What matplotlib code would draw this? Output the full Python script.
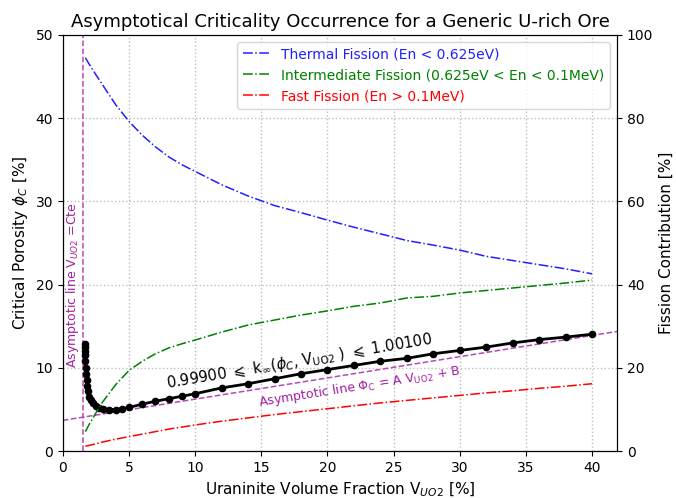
import matplotlib
matplotlib.use("Agg")
import matplotlib.pyplot as plt
import numpy as np

# critical porosity curve (k_inf ~ 1)
v_uo2 = [1.65, 1.66, 1.67, 1.68, 1.70, 1.72, 1.75, 1.80, 1.85, 1.90, 2.0, 2.1,
         2.25, 2.5, 2.75, 3.0, 3.5, 4.0, 4.5, 5.0, 6, 7, 8, 9, 10, 12, 14, 16,
         18, 20, 22, 24, 26, 28, 30, 32, 34, 36, 38, 40]
phi_c = [12.9, 12.5, 12.0, 11.5, 10.8, 10.0, 9.3, 8.5, 7.8, 7.2, 6.5, 6.1,
         5.8, 5.4, 5.2, 5.1, 5.0, 5.0, 5.1, 5.25, 5.65, 6.0, 6.3, 6.6, 6.9, 7.6,
         8.1, 8.7, 9.3, 9.8, 10.3, 10.8, 11.15, 11.7, 12.1, 12.5, 13.0, 13.4,
         13.7, 14.05]

# fission contributions [%]
v_fis = [1.7, 2, 2.5, 3, 4, 5, 6, 7, 8, 9, 10, 12, 14, 16, 18, 20, 22, 24, 26,
         28, 30, 32, 34, 36, 38, 40]
thermal = [94.5, 92.9, 90.4, 88.0, 83.2, 79.2, 75.9, 73.1, 70.7, 68.8, 67.2,
           64.0, 61.3, 59.0, 57.3, 55.5, 53.8, 52.2, 50.6, 49.5, 48.3, 46.8,
           45.8, 44.8, 43.8, 42.6]
intermediate = [4.7, 6.5, 9.2, 11.8, 16.0, 19.4, 21.6, 23.4, 24.8, 25.8, 26.7,
                28.6, 30.3, 31.5, 32.7, 33.7, 34.8, 35.6, 36.8, 37.2, 38.0,
                38.6, 39.2, 39.8, 40.4, 41.1]
fast = [1.2, 1.4, 1.8, 2.2, 2.9, 3.5, 4.1, 4.7, 5.3, 5.8, 6.3, 7.2, 8.0, 8.8,
        9.5, 10.2, 10.9, 11.6, 12.2, 12.8, 13.4, 14.0, 14.5, 15.1, 15.6, 16.2]

# asymptotes
v_asym = 1.5
slope_a = 0.255
inter_b = 3.7

fig, ax = plt.subplots(figsize=(6.76, 4.98), dpi=100)
fig.subplots_adjust(left=0.093, right=0.913, top=0.930, bottom=0.094)
ax2 = ax.twinx()

ax.grid(True, ls=":", color="0.75", lw=1)
ax.set_axisbelow(True)

purple = "#b848b8"
ax.axvline(v_asym, color=purple, ls="--", lw=1.1)
xa = np.array([0, 42])
ax.plot(xa, slope_a * xa + inter_b, color=purple, ls="--", lw=1.1)

ax.plot(v_uo2, phi_c, "k-o", lw=2, ms=4.5, zorder=5)

ax2.plot(v_fis, thermal, color="#2020ff", ls="-.", lw=1.1,
         label="Thermal Fission (En < 0.625eV)")
ax2.plot(v_fis, intermediate, color="green", ls="-.", lw=1.1,
         label="Intermediate Fission (0.625eV < En < 0.1MeV)")
ax2.plot(v_fis, fast, color="red", ls="-.", lw=1.1,
         label="Fast Fission (En > 0.1MeV)")

ax.set_xlim(0, 41.9)
ax.set_ylim(0, 50)
ax2.set_ylim(0, 100)

ax.set_xlabel("Uraninite Volume Fraction V$_{UO2}$ [%]", fontsize=11)
ax.set_ylabel(r"Critical Porosity $\phi_C$ [%]", fontsize=11)
ax2.set_ylabel("Fission Contribution [%]", fontsize=11)
ax.set_title("Asymptotical Criticality Occurrence for a Generic U-rich Ore",
             fontsize=13)
ax.tick_params(labelsize=10)
ax2.tick_params(labelsize=10)

ax.text(17.9, 10.8,
        r"0.99900 $\leqslant$ k$_\infty$($\phi_C$, V$_\mathrm{UO2}$ ) $\leqslant$ 1.00100",
        fontsize=10.5, rotation=9.5, ha="center", va="center")
ax.text(22.4, 7.8, r"Asymptotic line $\Phi_\mathrm{C}$ = A V$_\mathrm{UO2}$ + B",
        fontsize=9, rotation=9, ha="center", va="center", color="#a020a0")
ax.text(0.75, 20, "Asymptotic line V$_{UO2}$ =Cte", fontsize=9, rotation=90,
        ha="center", va="center", color="#a020a0")

leg = ax2.legend(loc="upper right", fontsize=10, handlelength=2)
for txt, ln in zip(leg.get_texts(), leg.get_lines()):
    txt.set_color(ln.get_color())

fig.savefig("out.png", dpi=100)
